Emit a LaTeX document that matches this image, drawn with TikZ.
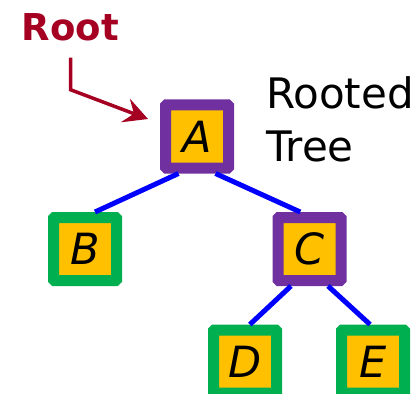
\documentclass[tikz,border=0pt]{standalone}
\usepackage{fontspec}
\setmainfont{DejaVu Sans}
\usetikzlibrary{calc}
\usetikzlibrary{arrows.meta}
\definecolor{rootred}{RGB}{165,0,33}
\definecolor{innerpurple}{RGB}{112,48,160}
\definecolor{leafgreen}{RGB}{0,176,80}
\definecolor{keygold}{RGB}{255,192,0}
\definecolor{edgeblue}{RGB}{0,0,255}

\begin{document}
\begin{tikzpicture}[x=1pt, y=-1pt]
            \tikzstyle{vertex} = [fill=keygold, line width=11pt, rounded corners=1pt, minimum size=63pt, inner sep=0pt, font=\fontsize{43}{43}\selectfont\itshape]
            \tikzstyle{inner} = [vertex, draw=innerpurple]
            \tikzstyle{leaf} = [vertex, draw=leafgreen]
            \tikzstyle{edge} = [edgeblue, line width=5pt]
            \tikzstyle{pointer} = [rootred, line width=3.5pt, -{Stealth[length=24pt, width=25pt, inset=9pt]}]
            \useasboundingbox (0, 0) rectangle (417, 393);
            % the tree
            \node[inner] (A) at (197, 136.5) {A};
            \node[leaf] (B) at (85, 249) {B};
            \node[inner] (C) at (309.5, 249) {C};
            \node[leaf] (D) at (245, 361.5) {D};
            \node[leaf] (E) at (373, 361.5) {E};
            \draw[edge] ($(A.south)!0.5!(A.south west)$) -- ($(B.north)!0.27!(B.north east)$);
            \draw[edge] ($(A.south)!0.5!(A.south east)$) -- ($(C.north)!0.25!(C.north west)$);
            \draw[edge] ($(C.south)!0.5!(C.south west)$) -- ($(D.north)!0.13!(D.north east)$);
            \draw[edge] ($(C.south)!0.5!(C.south east)$) -- ($(E.north)!0.08!(E.north west)$);
            % labels
            \node[rootred, inner sep=0pt, anchor=base, font=\fontsize{37}{37}\selectfont\bfseries] (rootlabel) at (70.5, 41) {Root};
            \node[inner sep=0pt, anchor=north west, align=left, font=\fontsize{42}{53}\selectfont] (title) at (266, 76) {Rooted\\Tree};
            \coordinate (rootend) at ($(A.north west)+(-12, 19.5)$);
            \draw[pointer] ([yshift=-16pt]rootlabel.south) -- ++(0, 32) -- (rootend);
        \end{tikzpicture}
\end{document}
